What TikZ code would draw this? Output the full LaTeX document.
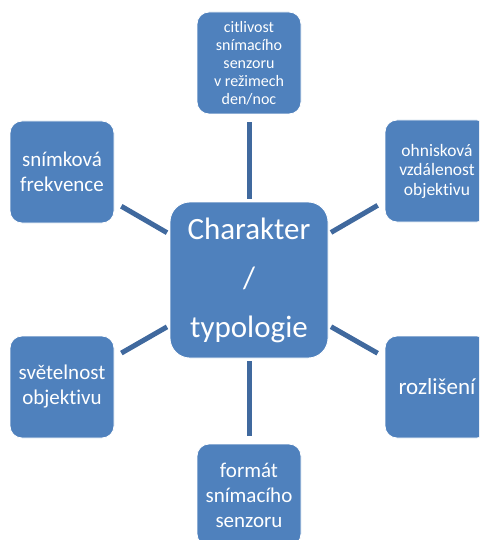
\documentclass[tikz,border=0pt]{standalone}
\usepackage{fontspec}
\setmainfont{Carlito}[Ligatures=NoCommon]
\definecolor{boxblue}{HTML}{4F81BD}
\definecolor{lineblue}{HTML}{40699E}

\begin{document}
\begin{tikzpicture}
[x=1pt,y=-1pt,%
  satBox/.style={shape=rectangle,rounded corners=12pt,fill=boxblue,draw=white,
    line width=0.8pt,minimum width=104pt,minimum height=102pt,inner sep=2pt,
    text=white,align=center,font={\fontsize{21}{25}\selectfont}},%
  hubBox/.style={satBox,rounded corners=20pt,minimum width=158pt,minimum height=156pt,
    font={\fontsize{31}{49}\selectfont}},%
  connLine/.style={-,line width=5pt,draw=lineblue,shorten <=3pt,shorten >=8pt}]
\useasboundingbox (0,0) rectangle (479,540);
\clip (0,0) rectangle (479,540);
%% nodes or vertices
\node (hub) at (249,280) [hubBox] {Charakter\\/\\typologie};
\node (top) at (249,63) [satBox,font={\fontsize{16}{18}\selectfont}]
  {citlivost\\snímacího\\senzoru\\v režimech\\den/noc};
\node (rightUp) at (437,171) [satBox,font={\fontsize{17.5}{19.5}\selectfont}]
  {ohnisková\\vzdálenost\\objektivu};
\node (rightLow) at (437,387) [satBox,font={\fontsize{23}{26}\selectfont}] {rozlišení};
\node (bottom) at (249,495) [satBox] {formát\\snímacího\\senzoru};
\node (leftLow) at (62,387) [satBox] {světelnost\\objektivu};
\node (leftUp) at (62,172) [satBox] {snímková\\frekvence};
%% edges or lines
\path
\foreach \startnode/\endnode in {hub/top, hub/rightUp, hub/rightLow, hub/bottom, hub/leftLow, hub/leftUp}
{
  (\startnode) edge[connLine] (\endnode)
};
\end{tikzpicture}
\end{document}
